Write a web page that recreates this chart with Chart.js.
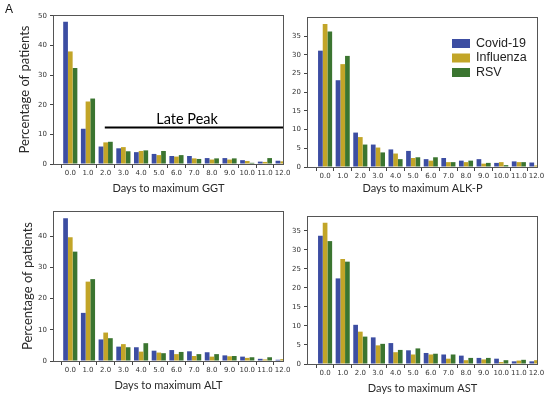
<!DOCTYPE html>
<html><head><meta charset="utf-8">
<script src="https://cdn.jsdelivr.net/npm/chart.js@4.4.1/dist/chart.umd.min.js"></script>
<style>
html,body{margin:0;padding:0;background:#fff;}
#wrap{position:relative;width:550px;height:398px;overflow:hidden;background:#fff;}
canvas{position:absolute;left:0;top:0;}
#lblA{position:absolute;left:5px;top:2px;font:12px "Liberation Sans",Arial,sans-serif;color:#111;}
</style></head><body>
<div id="wrap">
<canvas id="c1" width="550" height="398"></canvas>
<canvas id="c2" width="550" height="398"></canvas>
<canvas id="c3" width="550" height="398"></canvas>
<canvas id="c4" width="550" height="398"></canvas>
<div id="lblA">A</div>
</div>
<script>
// ---- data ----
const categories = [0,1,2,3,4,5,6,7,8,9,10,11,12];
const seriesNames = ['Covid-19','Influenza','RSV'];
const seriesColors = ['#3c4da2','#c2a528','#3b7530'];

const ggtCovid = [48.0, 11.9, 5.9, 5.3, 4.0, 3.4, 2.7, 2.7, 2.0, 2.0, 1.3, 0.8, 1.1];
const ggtFlu   = [38.0, 21.1, 7.3, 5.7, 4.4, 3.0, 2.5, 1.9, 1.5, 1.5, 1.0, 0.7, 0.9];
const ggtRsv   = [32.4, 22.1, 7.5, 4.3, 4.6, 4.4, 3.0, 1.7, 1.9, 1.9, 0.4, 2.0, 0.8];

const alkpCovid = [31.1, 23.2, 9.2, 6.0, 4.7, 4.3, 2.1, 2.4, 1.7, 2.1, 1.1, 1.5, 1.2];
const alkpFlu   = [38.2, 27.5, 8.0, 5.2, 3.6, 2.4, 1.7, 1.3, 1.3, 0.9, 1.3, 1.3, 0.4];
const alkpRsv   = [36.2, 29.7, 6.0, 3.9, 2.1, 2.6, 2.6, 1.3, 1.7, 1.1, 0.5, 1.3, 0.3];

const altCovid = [45.7, 15.4, 6.9, 4.6, 4.4, 3.3, 3.5, 3.1, 2.8, 1.8, 1.4, 0.7, 0.4];
const altFlu   = [39.6, 25.4, 9.1, 5.4, 3.0, 2.7, 2.2, 1.6, 1.4, 1.5, 1.0, 0.5, 0.6];
const altRsv   = [35.0, 26.2, 7.3, 4.4, 5.7, 2.5, 2.9, 2.2, 2.2, 1.6, 1.2, 1.2, 0.5];

const astCovid = [33.7, 22.5, 10.3, 7.0, 5.5, 3.6, 2.9, 2.5, 2.2, 1.6, 1.4, 0.7, 0.7];
const astFlu   = [37.1, 27.6, 8.5, 4.9, 3.1, 2.5, 2.5, 1.4, 1.0, 1.2, 0.5, 0.9, 1.0];
const astRsv   = [32.3, 26.9, 7.2, 5.3, 3.7, 4.1, 2.7, 2.5, 1.6, 1.6, 1.0, 1.1, 0.8];

const yTicks50 = [0,10,20,30,40,50];
const yTicks40 = [0,10,20,30,40];
const yTicks35 = [0,5,10,15,20,25,30,35];
const xTickLabels = categories.map(v => v.toFixed(1));

const lateLabel = 'Late Peak';

// ---- helpers ----
const W = 550, H = 398, Y_W = 44, X_H = 34;

const frame = {
  id: 'frame',
  afterDatasetsDraw(chart) {
    const a = chart.chartArea, ctx = chart.ctx;
    ctx.save();
    ctx.strokeStyle = '#555';
    ctx.lineWidth = 1;
    ctx.strokeRect(Math.round(a.left) - 0.5, Math.round(a.top) + 0.5, Math.round(a.right - a.left) + 1, Math.round(a.bottom - a.top));
    ctx.restore();
  }
};

const legendPlugin = {
  id: 'inLegend',
  afterDraw(chart, args, opts) {
    if (!opts.show) return;
    const a = chart.chartArea, ctx = chart.ctx;
    ctx.save();
    ctx.font = '12.5px "Liberation Sans", Arial, sans-serif';
    ctx.textBaseline = 'middle';
    chart.data.datasets.forEach((ds, i) => {
      const x = a.right - 85, y = a.top + 26.5 + i * 14.5;
      ctx.fillStyle = ds.backgroundColor;
      ctx.fillRect(x, y - 4.5, 18, 9);
      ctx.fillStyle = '#222';
      ctx.fillText(ds.label, x + 24, y);
    });
    ctx.restore();
  }
};

const latePeak = {
  id: 'latePeak',
  afterDraw(chart, args, opts) {
    if (!opts.show) return;
    const xs = chart.scales.x, ys = chart.scales.y, a = chart.chartArea, ctx = chart.ctx;
    ctx.save();
    ctx.strokeStyle = '#000';
    ctx.lineWidth = 2;
    const y = ys.getPixelForValue(opts.lineY);
    ctx.beginPath();
    ctx.moveTo(xs.getPixelForValue(opts.lineStart), y);
    ctx.lineTo(a.right, y);
    ctx.stroke();
    ctx.fillStyle = '#000';
    ctx.font = '14.5px Lato, "Open Sans", sans-serif';
    ctx.textAlign = 'center';
    ctx.textBaseline = 'middle';
    ctx.fillText(opts.text, xs.getPixelForValue(opts.textX), ys.getPixelForValue(opts.textY));
    ctx.restore();
  }
};

function makeChart(id, p) {
  const datasets = [p.s1, p.s2, p.s3].map((vals, i) => ({
    label: seriesNames[i],
    data: vals,
    backgroundColor: seriesColors[i],
    borderWidth: 0,
    categoryPercentage: 0.8,
    barPercentage: 1.0
  }));
  return new Chart(document.getElementById(id), {
    type: 'bar',
    data: { labels: categories, datasets },
    plugins: [frame, legendPlugin, latePeak],
    options: {
      responsive: false,
      animation: false,
      layout: { padding: { left: p.left - Y_W, top: p.top, right: W - p.right, bottom: H - p.bottom - X_H } },
      plugins: {
        legend: { display: false },
        tooltip: { enabled: false },
        inLegend: { show: !!p.legend },
        latePeak: p.late ? Object.assign({ show: true }, p.late) : { show: false }
      },
      scales: {
        x: {
          type: 'linear',
          offset: false,
          min: p.xMin, max: p.xMax,
          afterFit(s) { s.height = X_H; },
          afterBuildTicks(s) { s.ticks = categories.map(v => ({ value: v })); },
          ticks: {
            autoSkip: false, maxRotation: 0, minRotation: 0, padding: 1,
            color: '#333', font: { family: 'DejaVu Sans', size: 7 },
            callback: (v, i) => xTickLabels[i]
          },
          grid: { display: true, drawOnChartArea: false, drawTicks: true, tickLength: 4, tickColor: '#444' },
          border: { display: false },
          title: {
            display: true, text: p.xTitle, color: '#2a2a2a',
            font: { family: 'Lato', size: 11 },
            padding: { top: 0, bottom: X_H - p.xTitleOff - 6.6 }
          }
        },
        y: {
          min: 0, max: p.yMax,
          afterFit(s) { s.width = Y_W; },
          afterBuildTicks(s) { s.ticks = p.yTicks.map(v => ({ value: v })); },
          ticks: { padding: 3, color: '#333', font: { family: 'DejaVu Sans', size: 7 } },
          grid: { display: true, drawOnChartArea: false, drawTicks: true, tickLength: 4, tickColor: '#444' },
          border: { display: false },
          title: {
            display: !!p.yTitle, text: p.yTitle || '', color: '#2a2a2a',
            font: { family: 'Lato', size: 13 },
            padding: { top: p.yTitleX - (p.left - Y_W) - 7.8, bottom: 0 }
          }
        }
      }
    }
  });
}

makeChart('c1', { left: 54, top: 15, right: 283, bottom: 164, xMin: -0.92, xMax: 12.02,
  yMax: 50.3, yTicks: yTicks50, s1: ggtCovid, s2: ggtFlu, s3: ggtRsv,
  xTitle: 'Days to maximum GGT', xTitleOff: 24, yTitle: 'Percentage of patients', yTitleX: 25,
  late: { lineStart: 1.95, lineY: 12.3, text: lateLabel, textX: 6.6, textY: 15.2 } });

makeChart('c2', { left: 308, top: 17, right: 537, bottom: 167, xMin: -0.97, xMax: 12.03,
  yMax: 40.1, yTicks: yTicks35, s1: alkpCovid, s2: alkpFlu, s3: alkpRsv,
  xTitle: 'Days to maximum ALK-P', xTitleOff: 21.5, legend: true });

makeChart('c3', { left: 54, top: 211, right: 283, bottom: 361, xMin: -0.92, xMax: 12.02,
  yMax: 48.0, yTicks: yTicks40, s1: altCovid, s2: altFlu, s3: altRsv,
  xTitle: 'Days to maximum ALT', xTitleOff: 24.5, yTitle: 'Percentage of patients', yTitleX: 27.5 });

makeChart('c4', { left: 308, top: 216, right: 537, bottom: 364, xMin: -0.97, xMax: 12.03,
  yMax: 38.9, yTicks: yTicks35, s1: astCovid, s2: astFlu, s3: astRsv,
  xTitle: 'Days to maximum AST', xTitleOff: 24 });
</script>
</body></html>
